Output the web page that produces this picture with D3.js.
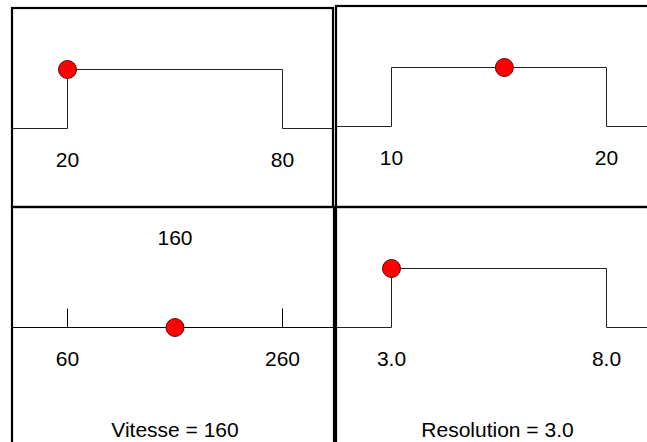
<!DOCTYPE html>
<html>
<head>
<meta charset="utf-8">
<script src="https://cdn.jsdelivr.net/npm/d3@7"></script>
<style>
  html, body { margin: 0; padding: 0; background: #fff; }
  svg { display: block; }
  text { font-family: "Liberation Sans", Arial, sans-serif; font-size: 21px; fill: #000; }
</style>
</head>
<body>
<script>
// ---- data ----
const panelNames = ["range A", "range B", "Vitesse", "Resolution"];
const rangeMins = [20, 10, 60, 3.0];
const rangeMaxs = [80, 20, 260, 8.0];
const currentValues = [20, 15.25, 160, 3.0];
const tickLabels = [["20", "80"], ["10", "20"], ["60", "260"], ["3.0", "8.0"]];
const panelKinds = ["window", "window", "axis", "window"];
const valueLabels = [null, null, "160", null];
const titles = [null, null, "Vitesse = 160", "Resolution = 3.0"];

// ---- layout ----
const W = 647, H = 442;
const boxes = [
  { x: 12, y: 8, w: 321, h: 199 },
  { x: 336, y: 6, w: 320, h: 201 },
  { x: 12, y: 207, w: 322, h: 260 },
  { x: 336, y: 207, w: 320, h: 260 }
];

const svg = d3.select("body").append("svg").attr("width", W).attr("height", H);
svg.append("rect").attr("width", W).attr("height", H).attr("fill", "#fff");

panelNames.forEach((name, i) => {
  const b = boxes[i];
  const g = svg.append("g").attr("transform", `translate(${b.x},${b.y})`);

  const x = d3.scaleLinear().domain([rangeMins[i], rangeMaxs[i]]).range([55.5, 270.5]);
  const y = d3.scaleLinear().domain([0, 1]).range([120.5, 61.5]);

  const left = 1, right = b.w;

  if (panelKinds[i] === "window") {
    const pts = [
      [left, y(0)],
      [x(rangeMins[i]), y(0)],
      [x(rangeMins[i]), y(1)],
      [x(rangeMaxs[i]), y(1)],
      [x(rangeMaxs[i]), y(0)],
      [right, y(0)]
    ];
    g.append("path")
      .attr("d", d3.line()(pts))
      .attr("fill", "none")
      .attr("stroke", "#222")
      .attr("stroke-width", 1);
    g.append("circle")
      .attr("cx", x(currentValues[i]))
      .attr("cy", y(1))
      .attr("r", 9)
      .attr("fill", "#f00")
      .attr("stroke", "#600")
      .attr("stroke-width", 1);
  } else {
    g.append("line")
      .attr("x1", left).attr("x2", right)
      .attr("y1", y(0)).attr("y2", y(0))
      .attr("stroke", "#000").attr("stroke-width", 1);
    [rangeMins[i], rangeMaxs[i]].forEach(v => {
      g.append("line")
        .attr("x1", x(v)).attr("x2", x(v))
        .attr("y1", y(0) - 19).attr("y2", y(0))
        .attr("stroke", "#000").attr("stroke-width", 1);
    });
    g.append("circle")
      .attr("cx", x(currentValues[i]))
      .attr("cy", y(0))
      .attr("r", 9)
      .attr("fill", "#f00")
      .attr("stroke", "#600")
      .attr("stroke-width", 1);
    if (valueLabels[i]) {
      g.append("text")
        .attr("x", x(currentValues[i]))
        .attr("y", 38)
        .attr("text-anchor", "middle")
        .text(valueLabels[i]);
    }
  }

  [rangeMins[i], rangeMaxs[i]].forEach((v, k) => {
    g.append("text")
      .attr("x", x(v))
      .attr("y", 158.5)
      .attr("text-anchor", "middle")
      .text(tickLabels[i][k]);
  });

  if (titles[i]) {
    g.append("text")
      .attr("x", x(currentValues[i]) + (panelKinds[i] === "window" ? 106 : 0))
      .attr("y", 230)
      .attr("text-anchor", "middle")
      .text(titles[i]);
  }

  g.append("rect")
    .attr("x", 0).attr("y", 0)
    .attr("width", b.w).attr("height", b.h)
    .attr("fill", "none")
    .attr("stroke", "#000")
    .attr("stroke-width", 2.2);
});
</script>
</body>
</html>
